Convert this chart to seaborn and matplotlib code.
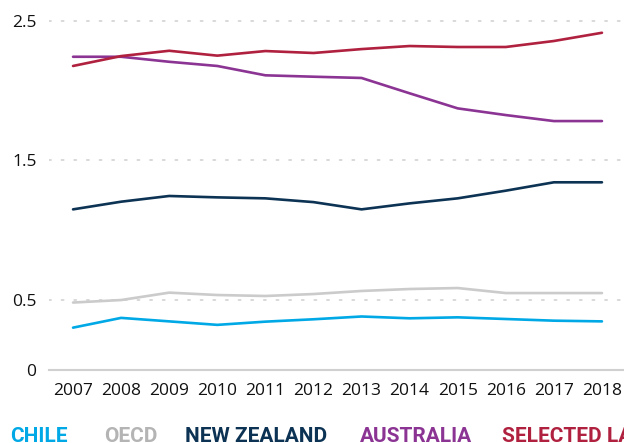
import matplotlib
matplotlib.use("Agg")
import matplotlib.pyplot as plt
from matplotlib.ticker import FixedLocator, NullFormatter, FixedFormatter
import seaborn as sns
import pandas as pd

years = [2007, 2008, 2009, 2010, 2011, 2012, 2013, 2014, 2015, 2016, 2017, 2018]
chile = [0.30, 0.37, 0.345, 0.32, 0.343, 0.36, 0.38, 0.367, 0.374, 0.362, 0.35, 0.345]
oecd = [0.48, 0.498, 0.551, 0.534, 0.527, 0.541, 0.563, 0.577, 0.584, 0.548, 0.548, 0.548]
new_zealand = [1.148, 1.203, 1.244, 1.234, 1.227, 1.20, 1.148, 1.191, 1.227, 1.282, 1.342, 1.342]
australia = [2.242, 2.242, 2.206, 2.176, 2.109, 2.099, 2.09, 1.98, 1.872, 1.824, 1.781, 1.781]
selected_lac = [2.176, 2.247, 2.285, 2.25, 2.283, 2.269, 2.297, 2.319, 2.312, 2.312, 2.355, 2.414]

series_names = ["CHILE", "OECD", "NEW ZEALAND", "AUSTRALIA", "SELECTED LAC"]
series_values = [chile, oecd, new_zealand, australia, selected_lac]
line_colors = ["#00A9E6", "#CBCBCB", "#0D3354", "#8B3494", "#B0213F"]
text_colors = ["#00A9E6", "#B4B4B4", "#0D3354", "#8B3494", "#B0213F"]
y_ticks = [0, 0.5, 1.5, 2.5]
y_tick_labels = ["0", "0.5", "1.5", "2.5"]

rows = []
for name, vals in zip(series_names, series_values):
    for y, v in zip(years, vals):
        rows.append({"year": y, "value": v, "series": name})
df = pd.DataFrame(rows)

sns.set_style("white")
plt.rcParams["font.family"] = ["Open Sans", "DejaVu Sans"]

W, H = 624, 443
fig = plt.figure(figsize=(W / 100, H / 100), dpi=100)
ax = fig.add_axes([49 / W, (H - 369.5) / H, 577 / W, 355.7 / H])

sns.lineplot(data=df, x="year", y="value", hue="series", hue_order=series_names,
             palette=dict(zip(series_names, line_colors)), linewidth=1.9,
             legend=False, ax=ax)

ax.set_xlim(2006.5, 2018.5)
ax.set_ylim(0, 2.55)
ax.set_xlabel("")
ax.set_ylabel("")

for s in ["top", "right", "left"]:
    ax.spines[s].set_visible(False)
ax.spines["bottom"].set_color("#D0D0D0")
ax.spines["bottom"].set_linewidth(1.5)

# x ticks: boundary ticks (inward), labels at years
ax.xaxis.set_major_locator(FixedLocator([y - 0.5 for y in years]))
ax.xaxis.set_major_formatter(NullFormatter())
ax.xaxis.set_minor_locator(FixedLocator(years))
ax.xaxis.set_minor_formatter(FixedFormatter([str(y) for y in years]))
ax.tick_params(axis="x", which="major", direction="in", length=7.5, width=1.5,
               color="#D0D0D0")
ax.tick_params(axis="x", which="minor", length=0, pad=10, labelsize=12.5,
               labelcolor="#111111")

ax.set_yticks(y_ticks)
ax.set_yticklabels(y_tick_labels)
ax.tick_params(axis="y", length=0, pad=9, labelsize=12.5, labelcolor="#111111")

for g in [0.5, 1.5, 2.5]:
    ax.axhline(g, color="#D8D8D8", linewidth=1.4, linestyle=(0, (1, 5.5)),
               zorder=0, dash_capstyle="round")

legend_x = [10, 104, 185, 360, 502]
for name, col, xp in zip(series_names, text_colors, legend_x):
    fig.text(xp / W, 1.0 / H, name, color=col, fontsize=15, fontweight="bold",
             family=["Roboto", "DejaVu Sans"], ha="left", va="baseline")

fig.savefig("out.png", dpi=100)
